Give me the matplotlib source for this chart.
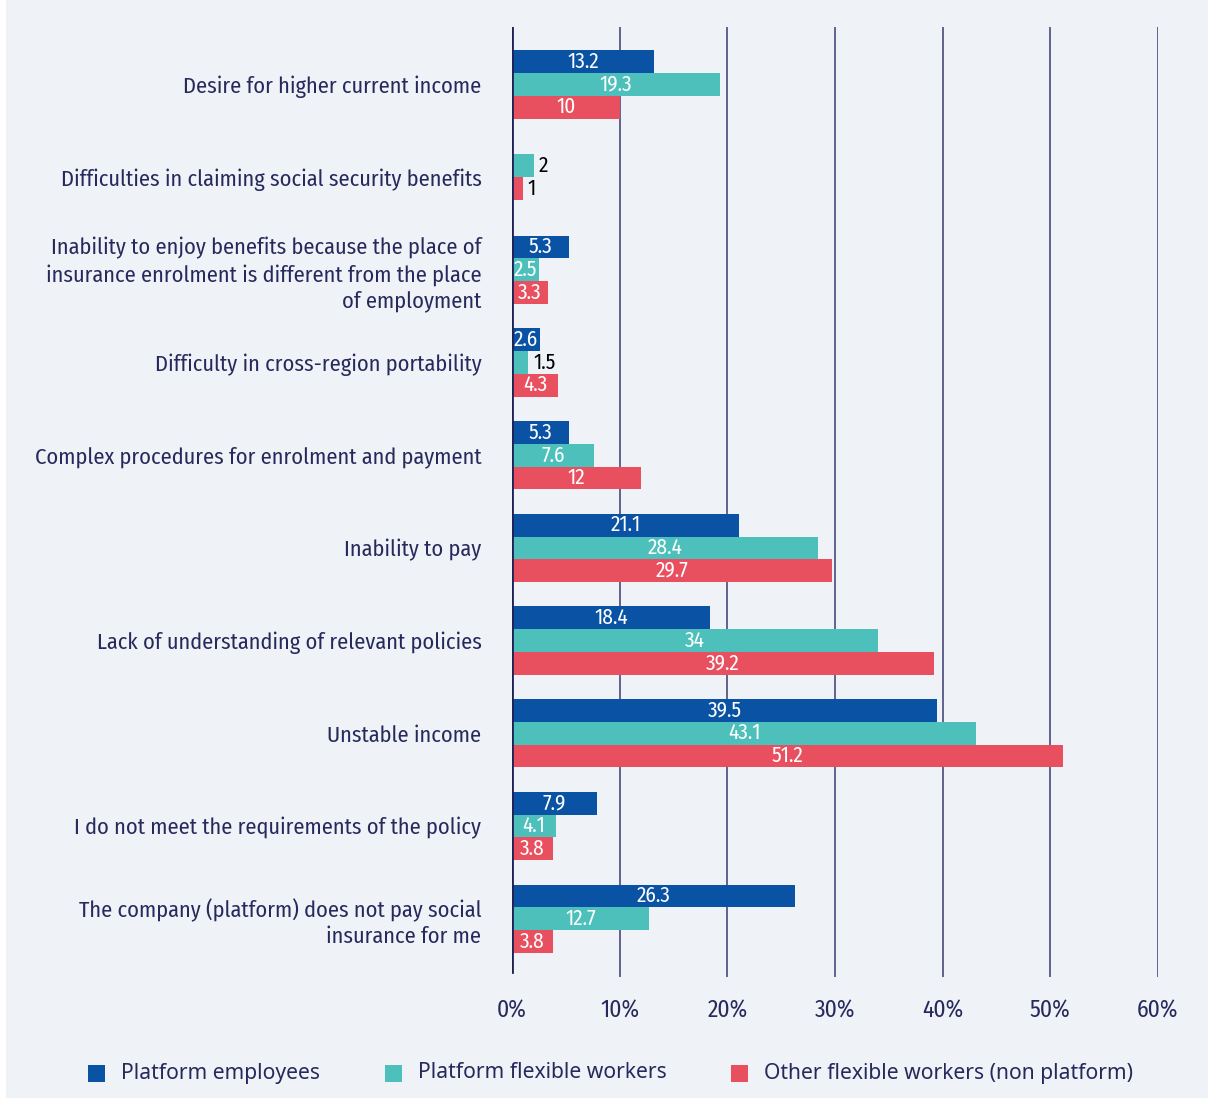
import os
import numpy as np
import matplotlib
matplotlib.use("Agg")
import matplotlib.pyplot as plt
from matplotlib import font_manager as fm
from matplotlib.patches import Rectangle
from matplotlib.font_manager import FontProperties

# ---------------- data ----------------
categories = [
    "Desire for higher current income",
    "Difficulties in claiming social security benefits",
    "Inability to enjoy benefits because the place of\ninsurance enrolment is different from the place\nof employment",
    "Difficulty in cross-region portability",
    "Complex procedures for enrolment and payment",
    "Inability to pay",
    "Lack of understanding of relevant policies",
    "Unstable income",
    "I do not meet the requirements of the policy",
    "The company (platform) does not pay social\ninsurance for me",
]
series_names = ["Platform employees", "Platform flexible workers",
                "Other flexible workers (non platform)"]
platform_employees = [13.2, np.nan, 5.3, 2.6, 5.3, 21.1, 18.4, 39.5, 7.9, 26.3]
platform_flexible = [19.3, 2, 2.5, 1.5, 7.6, 28.4, 34, 43.1, 4.1, 12.7]
other_flexible = [10, 1, 3.3, 4.3, 12, 29.7, 39.2, 51.2, 3.8, 3.8]
x_ticks = [0, 10, 20, 30, 40, 50, 60]
x_tick_labels = ["0%", "10%", "20%", "30%", "40%", "50%", "60%"]

colors = ["#0a52a3", "#4dc0bc", "#e9505f"]
navy = "#27295c"
bg = "#eff3f7"

# ---------------- fonts ----------------
def find_font(filenames):
    files = {os.path.basename(f.fname): f.fname for f in fm.fontManager.ttflist}
    for fn in filenames:
        if fn in files:
            return files[fn]
    return None

cond_path = find_font(["FiraSansCondensed-Regular.ttf",
                       "EncodeSansSemiCondensed-Regular.ttf",
                       "BarlowSemiCondensed-Regular.ttf"])
if cond_path:
    fp_cond = FontProperties(fname=cond_path)
else:
    fp_cond = FontProperties(family=["Roboto", "DejaVu Sans"])
fp_legend = FontProperties(family=["Noto Sans", "Open Sans", "DejaVu Sans"])

# ---------------- figure ----------------
W, H = 1208, 1099
fig = plt.figure(figsize=(W / 100, H / 100), dpi=100, facecolor="white")
fig.patches.append(Rectangle((6 / W, 1 / H), 1 - 6 / W, 1 - 1 / H,
                             transform=fig.transFigure, facecolor=bg,
                             edgecolor="none", zorder=-5))

x0, x1 = 512, 1158
ytop, ybot = 27, 977
ax = fig.add_axes([x0 / W, 1 - ybot / H, (x1 - x0) / W, (ybot - ytop) / H])
ax.set_facecolor("none")
ax.set_zorder(1)

n = len(categories)
ypos = np.arange(n)
bh = 0.245
data = [platform_employees, platform_flexible, other_flexible]

for i in range(n):
    present = [s for s in range(3) if not np.isnan(data[s][i])]
    k = len(present)
    for j, s in enumerate(present):
        v = data[s][i]
        yc = ypos[i] + (j - (k - 1) / 2) * bh
        ax.barh(yc, v, height=bh, color=colors[s], zorder=3, linewidth=0)
        lab = f"{v:g}"
        if v < 2.2:
            ax.text(v + 0.45, yc, lab, ha="left", va="center", color="black",
                    fontproperties=fp_cond, fontsize=15.3, zorder=4)
        else:
            ax.text(v / 2, yc, lab, ha="center", va="center", color="white",
                    fontproperties=fp_cond, fontsize=15.3, zorder=4)

ax.set_xlim(0, 60)
ax.set_ylim(n - 1 + 0.63, -0.62)
ax.set_xticks(x_ticks)
ax.set_xticklabels(x_tick_labels)
ax.set_yticks(ypos)
ax.set_yticklabels(categories)
for t in ax.get_yticklabels():
    t.set_fontproperties(fp_cond)
    t.set_fontsize(16.1)
    t.set_color(navy)
    t.set_linespacing(1.25)
for t in ax.get_xticklabels():
    t.set_fontproperties(fp_cond)
    t.set_fontsize(17)
    t.set_color(navy)
ax.tick_params(axis="y", length=0, pad=22)
ax.tick_params(axis="x", length=0, pad=16)
for sp in ax.spines.values():
    sp.set_visible(False)
for xt in x_ticks[1:]:
    ax.axvline(xt, color="#3b3c70", linewidth=1.1, zorder=1)
ax.axvline(0, color="#1e2257", linewidth=2.0, ymin=0.005, zorder=5)

# ---------------- legend ----------------
leg_sq_x = [88, 385, 731]
leg_y = 1073
sq = 17
for s in range(3):
    fig.patches.append(Rectangle((leg_sq_x[s] / W, 1 - (leg_y + sq / 2) / H), sq / W, sq / H,
                                 transform=fig.transFigure, facecolor=colors[s],
                                 edgecolor="none", zorder=2))
    fig.text((leg_sq_x[s] + sq + 16) / W, 1 - leg_y / H, series_names[s],
             ha="left", va="center", color=navy, fontproperties=fp_legend,
             fontsize=15.2)

fig.savefig("out.png", dpi=100, facecolor=fig.get_facecolor())
